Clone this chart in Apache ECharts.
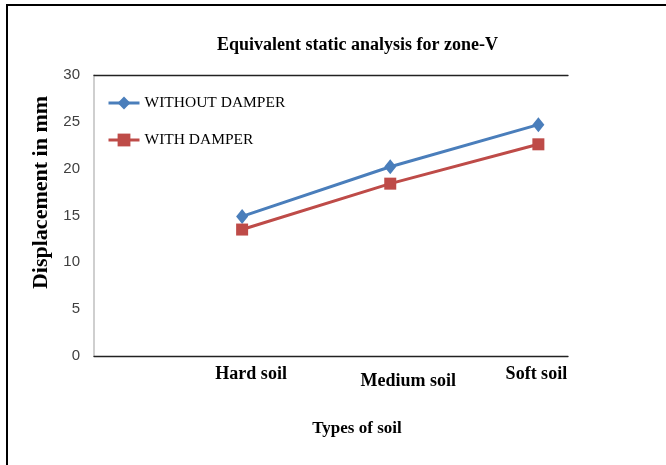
<!DOCTYPE html>
<html>
<head>
<meta charset="utf-8">
<script src="https://cdn.jsdelivr.net/npm/echarts@6/dist/echarts.min.js"></script>
<style>
  html, body { margin: 0; padding: 0; background: #fff; }
  #frame { position: absolute; left: 6px; top: 4px; width: 700px; height: 500px;
           border-left: 2px solid #000; border-top: 2px solid #000; }
  #chart { position: absolute; left: 0; top: 0; width: 666px; height: 465px; }
</style>
</head>
<body>
<div id="frame"></div>
<div id="chart"></div>
<script>
// Soil categories (placed at positions 1..3 along the x scale)
const categories = ['Hard soil', 'Medium soil', 'Soft soil'];
// Lateral displacement (mm) from equivalent static analysis, zone V
const withoutDamper = [14.9, 20.2, 24.7];
const withDamper = [13.5, 18.4, 22.6];
const yTicks = { min: 0, max: 30, step: 5 };

const serif = 'Liberation Serif, Times New Roman, serif';
const sans = 'Liberation Sans Narrow, Liberation Sans, Arial, sans-serif';

const toPairs = vals => vals.map((v, i) => [i + 1, v]);
const richKeys = ['h', 'm', 's'];

const chart = echarts.init(document.getElementById('chart'), null, { renderer: 'canvas' });

const baseX = {
  type: 'value',
  min: 0,
  max: 3.2,
  interval: 1,
  splitLine: { show: false },
  axisTick: { show: false },
  axisLine: { show: true, lineStyle: { color: '#222', width: 1.3 } }
};

chart.setOption({
  backgroundColor: 'transparent',
  animation: false,
  title: {
    text: 'Equivalent static analysis for zone-V',
    left: 217,
    top: 36,
    padding: 0,
    textStyle: { fontFamily: serif, fontWeight: 'bold', fontSize: 18, color: '#000' }
  },
  legend: {
    orient: 'vertical',
    left: 107,
    top: 95,
    padding: 0,
    itemWidth: 31,
    itemHeight: 16,
    itemGap: 21,
    lineStyle: { width: 3 },
    textStyle: { fontFamily: serif, fontSize: 15.5, color: '#000' },
    data: ['WITHOUT DAMPER', 'WITH DAMPER']
  },
  grid: { left: 94, top: 75, width: 474, height: 281 },
  xAxis: [
    Object.assign({}, baseX, {
      position: 'bottom',
      name: 'Types of soil',
      nameLocation: 'middle',
      nameGap: 64,
      nameTextStyle: {
        fontFamily: serif, fontWeight: 'bold', fontSize: 17, color: '#000',
        padding: [0, 0, 0, 52]
      },
      axisLabel: {
        margin: 9,
        formatter: v => {
          const i = Math.round(v) - 1;
          if (Math.abs(v - Math.round(v)) > 1e-6 || i < 0 || i >= categories.length) return '';
          return '{' + richKeys[i] + '|' + categories[i] + '}';
        },
        rich: {
          h: { fontFamily: serif, fontWeight: 'bold', fontSize: 18, color: '#000', padding: [0, 0, 0, 18] },
          m: { fontFamily: serif, fontWeight: 'bold', fontSize: 18, color: '#000', padding: [7, 0, 0, 36] },
          s: { fontFamily: serif, fontWeight: 'bold', fontSize: 18, color: '#000', padding: [0, 4, 0, 0] }
        }
      }
    }),
    Object.assign({}, baseX, {
      position: 'top',
      axisLabel: { show: false }
    })
  ],
  yAxis: {
    type: 'value',
    min: yTicks.min,
    max: yTicks.max,
    interval: yTicks.step,
    name: 'Displacement in mm',
    nameLocation: 'middle',
    nameGap: 41,
    nameTextStyle: {
      fontFamily: serif, fontWeight: 'bold', fontSize: 22, color: '#000',
      padding: [0, 0, 0, 46]
    },
    splitLine: { show: false },
    axisTick: { show: false },
    axisLine: { show: true, lineStyle: { color: '#bfbfbf', width: 1.5 } },
    axisLabel: { margin: 14, fontFamily: sans, fontSize: 15, color: '#404040' }
  },
  series: [
    {
      name: 'WITHOUT DAMPER',
      type: 'line',
      data: toPairs(withoutDamper),
      symbol: 'diamond',
      symbolSize: [12, 15],
      color: '#4a7ebb',
      lineStyle: { width: 3, color: '#4a7ebb' },
      itemStyle: { color: '#4a7ebb' }
    },
    {
      name: 'WITH DAMPER',
      type: 'line',
      data: toPairs(withDamper),
      symbol: 'rect',
      symbolSize: 12,
      color: '#be4b48',
      lineStyle: { width: 3, color: '#be4b48' },
      itemStyle: { color: '#be4b48' }
    }
  ]
});
</script>
</body>
</html>
